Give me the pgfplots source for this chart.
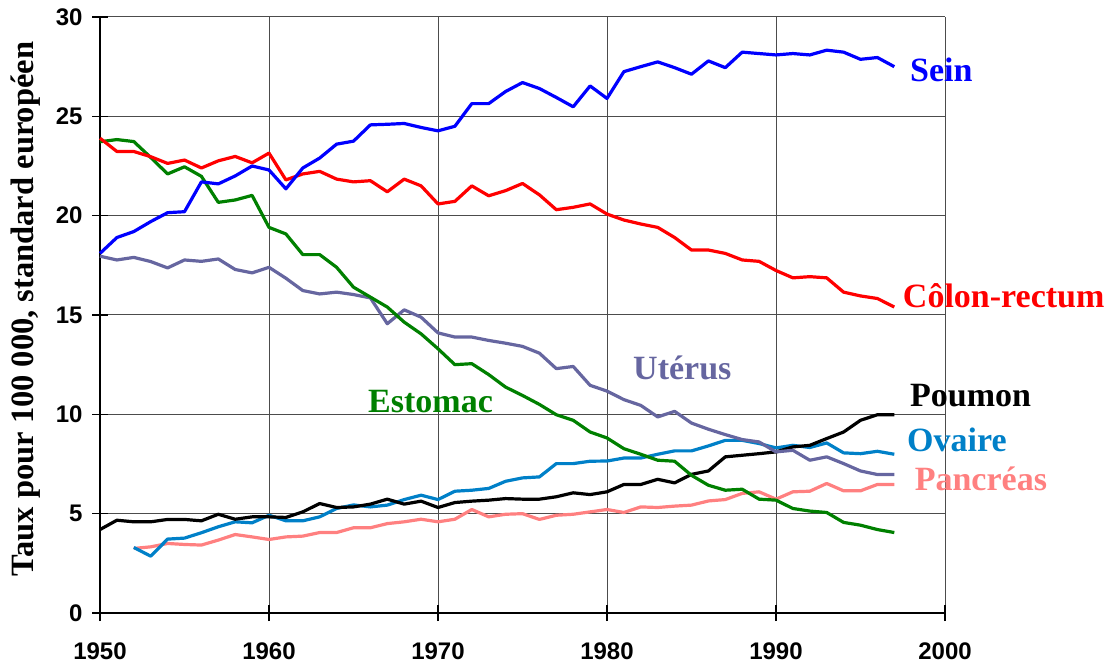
\documentclass[border=0pt]{standalone}
\usepackage{fontspec}
\setmainfont{Liberation Serif}
\setsansfont{Liberation Sans}
\usepackage{pgfplots}
\usepackage{pgfplotstable}
\pgfplotsset{compat=1.18}
\definecolor{cSein}{RGB}{0,0,255}
\definecolor{cColon}{RGB}{255,0,0}
\definecolor{cEst}{RGB}{0,128,0}
\definecolor{cUt}{RGB}{102,102,160}
\definecolor{cOv}{RGB}{0,128,200}
\definecolor{cPan}{RGB}{255,128,128}
\pgfplotstableread{
year sein colon estomac uterus poumon ovaire pancreas
1950 18.10 23.90 23.72 17.96 4.20 nan nan
1951 18.90 23.23 23.83 17.77 4.67 nan nan
1952 19.20 23.23 23.73 17.90 4.59 3.30 3.25
1953 19.70 22.97 22.93 17.69 4.59 2.86 3.33
1954 20.15 22.63 22.10 17.37 4.71 3.72 3.50
1955 20.20 22.80 22.46 17.77 4.71 3.77 3.45
1956 21.70 22.40 21.98 17.70 4.64 4.04 3.42
1957 21.60 22.76 20.67 17.82 4.97 4.34 3.67
1958 22.00 22.98 20.79 17.29 4.72 4.59 3.95
1959 22.50 22.66 21.02 17.12 4.84 4.54 3.83
1960 22.30 23.15 19.41 17.40 4.84 4.92 3.70
1961 21.35 21.80 19.08 16.85 4.81 4.64 3.83
1962 22.40 22.10 18.04 16.23 5.09 4.64 3.87
1963 22.90 22.23 18.04 16.06 5.51 4.84 4.05
1964 23.60 21.84 17.40 16.15 5.31 5.26 4.05
1965 23.75 21.70 16.40 16.03 5.34 5.44 4.29
1966 24.57 21.76 15.90 15.86 5.48 5.34 4.29
1967 24.60 21.20 15.40 14.56 5.73 5.43 4.50
1968 24.64 21.84 14.64 15.26 5.48 5.71 4.59
1969 24.44 21.50 14.05 14.89 5.63 5.93 4.72
1970 24.27 20.59 13.30 14.10 5.31 5.71 4.59
1971 24.50 20.72 12.50 13.89 5.56 6.13 4.72
1972 25.64 21.50 12.55 13.89 5.63 6.18 5.21
1973 25.64 21.00 12.00 13.72 5.68 6.27 4.84
1974 26.25 21.26 11.37 13.58 5.76 6.63 4.97
1975 26.70 21.62 10.95 13.42 5.73 6.80 5.00
1976 26.40 21.05 10.50 13.08 5.73 6.85 4.71
1977 25.95 20.30 9.98 12.30 5.85 7.52 4.92
1978 25.48 20.42 9.70 12.41 6.05 7.52 4.97
1979 26.53 20.59 9.11 11.46 5.96 7.64 5.09
1980 25.90 20.08 8.81 11.17 6.10 7.65 5.21
1981 27.25 19.78 8.27 10.74 6.47 7.80 5.06
1982 27.50 19.58 7.99 10.45 6.47 7.80 5.34
1983 27.74 19.41 7.69 9.87 6.73 7.99 5.31
1984 27.45 18.90 7.64 10.15 6.55 8.16 5.38
1985 27.12 18.27 6.93 9.56 6.98 8.16 5.43
1986 27.79 18.27 6.43 9.25 7.15 8.41 5.64
1987 27.45 18.10 6.18 8.98 7.86 8.69 5.71
1988 28.23 17.77 6.23 8.73 7.94 8.69 6.02
1989 28.16 17.70 5.73 8.61 8.02 8.53 6.10
1990 28.09 17.24 5.68 8.11 8.11 8.31 5.73
1991 28.16 16.87 5.26 8.19 8.36 8.44 6.10
1992 28.09 16.93 5.13 7.69 8.44 8.33 6.13
1993 28.33 16.87 5.06 7.86 8.78 8.56 6.52
1994 28.23 16.15 4.56 7.52 9.11 8.06 6.15
1995 27.87 15.96 4.42 7.15 9.70 8.02 6.15
1996 27.96 15.83 4.20 6.97 9.98 8.14 6.47
1997 27.50 15.40 4.05 6.97 9.98 7.99 6.47
}\data
\begin{document}
\begin{tikzpicture}
\path[use as bounding box] (0,0) rectangle (1110pt,667pt);
\begin{axis}[
  at={(100pt,54pt)}, anchor=south west,
  scale only axis, width=845pt, height=596pt,
  xmin=1950, xmax=2000, ymin=0, ymax=30,
  xtick={1950,1960,...,2000}, ytick={0,5,...,30},
  grid=major, grid style={black!70, line width=1pt},
  axis lines=left, axis line style={-, black, line width=1.2pt},
  tick align=center, major tick length=16pt,
  tick style={black, line width=1.2pt},
  /pgf/number format/assume math mode=true,
  /pgf/number format/1000 sep={},
  tick label style={font=\fontsize{24}{24}\selectfont\sffamily\bfseries},
  xticklabel style={anchor=north, yshift=-18pt},
  yticklabel style={anchor=east, xshift=-6pt},
  ylabel={Taux pour 100 000, standard européen},
  ylabel style={at={(axis description cs:-0.0876,0.51)}, anchor=center,
    font=\fontsize{32.5}{32.5}\selectfont\bfseries},
  clip=false,
  every axis plot/.append style={line width=3.2pt, line join=round},
  unbounded coords=jump,
]
\addplot[cPan] table[x=year,y=pancreas]{\data};
\addplot[cOv] table[x=year,y=ovaire]{\data};
\addplot[black] table[x=year,y=poumon]{\data};
\addplot[cUt] table[x=year,y=uterus]{\data};
\addplot[cEst] table[x=year,y=estomac]{\data};
\addplot[cColon] table[x=year,y=colon]{\data};
\addplot[cSein] table[x=year,y=sein]{\data};
\begin{scope}[every node/.style={font=\fontsize{34}{34}\selectfont\bfseries, anchor=base west, inner sep=0pt}]
\node[text=cSein] at (axis cs:1997.93,26.74) {Sein};
\node[text=cColon] at (axis cs:1997.5,15.4) {Côlon-rectum};
\node[text=cUt] at (axis cs:1981.54,11.73) {Utérus};
\node[text=cEst] at (axis cs:1965.86,10.07) {Estomac};
\node[text=black] at (axis cs:1997.93,10.38) {Poumon};
\node[text=cOv] at (axis cs:1997.75,8.12) {Ovaire};
\node[text=cPan] at (axis cs:1998.2,6.19) {Pancréas};
\end{scope}
\end{axis}
\end{tikzpicture}
\end{document}
